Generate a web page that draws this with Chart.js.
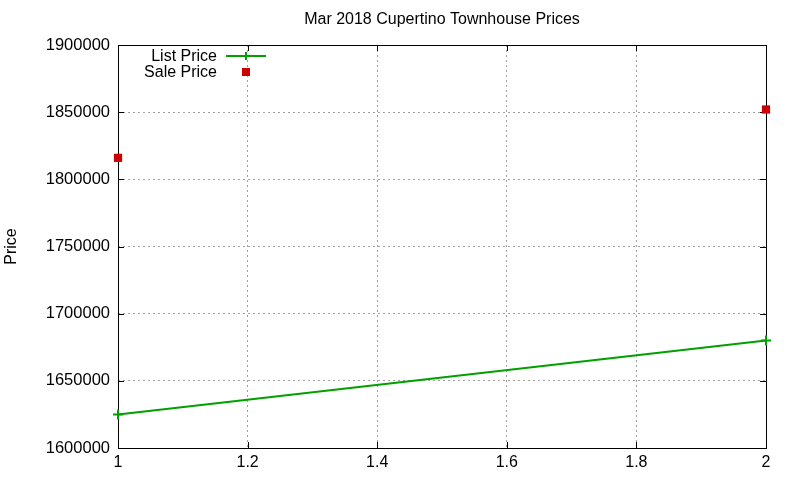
<!DOCTYPE html>
<html>
<head>
<meta charset="utf-8">
<script src="https://cdn.jsdelivr.net/npm/chart.js@4.4.1/dist/chart.umd.min.js"></script>
<style>
  html, body { margin: 0; padding: 0; background: #fff; }
  #wrap { width: 800px; height: 480px; }
</style>
</head>
<body>
<div id="wrap"><canvas id="chart" width="800" height="480"></canvas></div>
<script>
// Data
const xValues = [1, 2];
const listPrices = [1625000, 1680000];
const salePrices = [1816000, 1852000];
const seriesNames = ['List Price', 'Sale Price'];
const xTicks = [1, 1.2, 1.4, 1.6, 1.8, 2];
const yTicks = [1600000, 1650000, 1700000, 1750000, 1800000, 1850000, 1900000];
const chartTitle = 'Mar 2018 Cupertino Townhouse Prices';
const yTitle = 'Price';

const FONT = '"Liberation Sans", Arial, sans-serif';
const GREEN = '#00a000';
const RED = '#cc0000';

// gnuplot-ish frame: title, border, inward ticks (under the data), key on top
const gnuplotFrame = {
    id: 'gnuplotFrame',
    beforeDatasetsDraw(chart) {
        const { ctx, chartArea: a, scales } = chart;
        ctx.save();

        // title + y label
        ctx.fillStyle = '#000';
        ctx.font = '16px ' + FONT;
        ctx.textAlign = 'center';
        ctx.textBaseline = 'middle';
        ctx.fillText(chartTitle, (a.left + a.right) / 2, 20);
        ctx.save();
        ctx.translate(12, (a.top + a.bottom) / 2);
        ctx.rotate(-Math.PI / 2);
        ctx.fillText(yTitle, 0, 0);
        ctx.restore();

        ctx.strokeStyle = '#000';
        ctx.lineWidth = 1;
        ctx.strokeRect(a.left + 0.5, a.top + 0.5, a.right - a.left, a.bottom - a.top);
        ctx.beginPath();
        yTicks.forEach(v => {
            const y = Math.round(scales.y.getPixelForValue(v)) + 0.5;
            ctx.moveTo(a.left, y); ctx.lineTo(a.left + 6, y);
            ctx.moveTo(a.right, y); ctx.lineTo(a.right - 6, y);
        });
        xTicks.forEach(v => {
            const x = Math.round(scales.x.getPixelForValue(v)) + 0.5;
            ctx.moveTo(x, a.bottom); ctx.lineTo(x, a.bottom - 6);
            ctx.moveTo(x, a.top); ctx.lineTo(x, a.top + 6);
        });
        ctx.stroke();
        ctx.restore();
    },
    afterDatasetsDraw(chart) {
        const { ctx } = chart;
        ctx.save();
        // key
        ctx.font = '16px ' + FONT;
        ctx.fillStyle = '#000';
        ctx.textAlign = 'right';
        ctx.textBaseline = 'middle';
        const tx = 217, sx = 226, ex = 266, y0 = 57, dy = 16;
        ctx.fillText(seriesNames[0], tx, y0);
        ctx.fillText(seriesNames[1], tx, y0 + dy);
        ctx.strokeStyle = GREEN;
        ctx.lineWidth = 2;
        ctx.beginPath();
        ctx.moveTo(sx, y0 - 1); ctx.lineTo(ex, y0 - 1);
        const mx = 246;
        ctx.moveTo(mx, y0 - 5); ctx.lineTo(mx, y0 + 3);
        ctx.stroke();
        ctx.fillStyle = RED;
        ctx.fillRect(mx - 4, y0 + dy - 5, 8, 8);
        ctx.restore();
    }
};

const ctx = document.getElementById('chart').getContext('2d');
new Chart(ctx, {
    type: 'scatter',
    data: {
        datasets: [
            {
                label: seriesNames[0],
                data: xValues.map((x, i) => ({ x: x, y: listPrices[i] })),
                showLine: true,
                borderColor: GREEN,
                backgroundColor: GREEN,
                borderWidth: 2,
                pointRadius: 0,
                pointHoverRadius: 0,
                clip: false,
                order: 2
            },
            {
                label: seriesNames[0] + ' pts',
                data: xValues.map((x, i) => ({ x: x, y: listPrices[i] })),
                showLine: false,
                borderColor: GREEN,
                borderWidth: 2,
                pointStyle: 'cross',
                pointRadius: 5,
                clip: false,
                order: 1
            },
            {
                label: seriesNames[1],
                data: xValues.map((x, i) => ({ x: x, y: salePrices[i] })),
                showLine: false,
                borderColor: RED,
                backgroundColor: RED,
                borderWidth: 0,
                pointStyle: 'rect',
                pointRadius: 5.8,
                clip: false,
                order: 0
            }
        ]
    },
    options: {
        responsive: false,
        animation: false,
        layout: { padding: { top: 45, right: 34, bottom: 0, left: 0 } },
        plugins: {
            legend: { display: false },
            tooltip: { enabled: false },
            title: { display: false }
        },
        scales: {
            x: {
                type: 'linear',
                min: 1,
                max: 2,
                afterBuildTicks: s => { s.ticks = xTicks.map(v => ({ value: v })); },
                afterFit: s => { s.height = 32; },
                ticks: {
                    color: '#000',
                    font: { family: FONT, size: 16 },
                    padding: 5,
                    maxRotation: 0,
                    callback: v => String(Math.round(v * 10) / 10)
                },
                grid: {
                    color: '#a0a0a0',
                    lineWidth: 1,
                    drawTicks: false
                },
                border: { display: false, dash: [2, 3] }
            },
            y: {
                min: 1600000,
                max: 1900000,
                afterBuildTicks: s => { s.ticks = yTicks.map(v => ({ value: v })); },
                afterFit: s => { s.width = 118; },
                ticks: {
                    color: '#000',
                    font: { family: FONT, size: 16.5 },
                    padding: 8,
                    callback: v => String(v)
                },
                grid: {
                    color: '#a0a0a0',
                    lineWidth: 1,
                    drawTicks: false
                },
                border: { display: false, dash: [2, 3] }
            }
        }
    },
    plugins: [gnuplotFrame]
});
</script>
</body>
</html>
